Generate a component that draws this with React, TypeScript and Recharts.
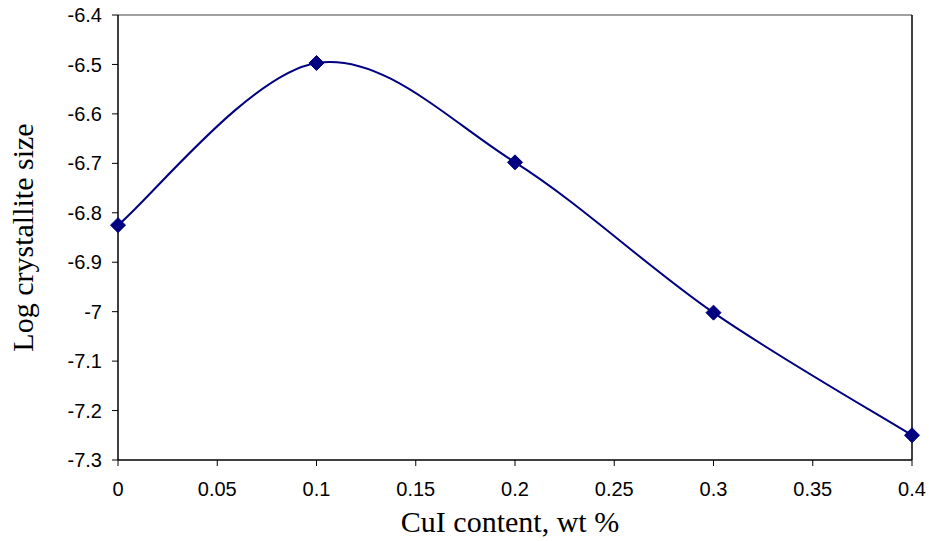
import React from "react";
import { LineChart, Line, XAxis, YAxis, ReferenceLine, Label } from "recharts";

// CuI content (wt %) and the measured log crystallite size
const cuiContent = [0, 0.1, 0.2, 0.3, 0.4];
const logCrystalliteSize = [-6.825, -6.497, -6.698, -7.002, -7.25];

const xTicks = [0, 0.05, 0.1, 0.15, 0.2, 0.25, 0.3, 0.35, 0.4];
const yTicks = [-7.3, -7.2, -7.1, -7.0, -6.9, -6.8, -6.7, -6.6, -6.5, -6.4];

const data = cuiContent.map((x, i) => ({ x, y: logCrystalliteSize[i] }));

const NAVY = "#000080";
const TICK_FONT = { fontFamily: "'Liberation Sans', Arial, sans-serif", fontSize: 20, fill: "#000" };
const TITLE_FONT = "'Liberation Serif', 'Times New Roman', serif";

// Smooth Bezier curve through every point (cardinal spline, spreadsheet-style smoothing)
const smoothCurve = (context: any) => {
  let pts: [number, number][] = [];
  return {
    areaStart() {},
    areaEnd() {},
    lineStart() {
      pts = [];
    },
    point(x: number, y: number) {
      pts.push([+x, +y]);
    },
    lineEnd() {
      const n = pts.length;
      if (!n) return;
      context.moveTo(pts[0][0], pts[0][1]);
      for (let i = 0; i < n - 1; i++) {
        const p0 = pts[Math.max(i - 1, 0)];
        const p1 = pts[i];
        const p2 = pts[i + 1];
        const p3 = pts[Math.min(i + 2, n - 1)];
        const c1x = p1[0] + (p2[0] - p0[0]) / 6;
        const c1y = p1[1] + (p2[1] - p0[1]) / 6;
        const c2x = p2[0] - (p3[0] - p1[0]) / 6;
        const c2y = p2[1] - (p3[1] - p1[1]) / 6;
        context.bezierCurveTo(c1x, c1y, c2x, c2y, p2[0], p2[1]);
      }
    },
  };
};

const Diamond = (props: any) => {
  const { cx, cy, index } = props;
  if (cx == null || cy == null) return null;
  const r = 7.5;
  return (
    <polygon
      key={`d-${index}`}
      points={`${cx},${cy - r} ${cx + r},${cy} ${cx},${cy + r} ${cx - r},${cy}`}
      fill={NAVY}
      stroke={NAVY}
    />
  );
};

const fmt = (v: number) => String(parseFloat(v.toFixed(2)));

export default function App() {
  return (
    <div style={{ position: "absolute", left: 0, top: 0, background: "#fff" }}>
      <LineChart
        width={929}
        height={541}
        data={data}
        margin={{ top: 15, right: 17, bottom: 0, left: 0 }}
      >
        <XAxis
          dataKey="x"
          type="number"
          domain={[0, 0.4]}
          ticks={xTicks}
          tickFormatter={fmt}
          interval={0}
          height={81}
          stroke="#000"
          tickLine={{ stroke: "#000" }}
          axisLine={{ stroke: "#000", strokeWidth: 1.5 }}
          tickSize={6}
          tickMargin={16}
          tick={TICK_FONT}
        >
          <Label
            content={() => (
              <text
                x={510}
                y={532}
                textAnchor="middle"
                fontFamily={TITLE_FONT}
                fontSize={30}
                fill="#000"
              >
                CuI content, wt %
              </text>
            )}
          />
        </XAxis>
        <YAxis
          type="number"
          domain={[-7.3, -6.4]}
          ticks={yTicks}
          tickFormatter={fmt}
          interval={0}
          width={118}
          stroke="#000"
          tickLine={{ stroke: "#000" }}
          axisLine={{ stroke: "#000", strokeWidth: 1.5 }}
          tickSize={6}
          tickMargin={10}
          tick={TICK_FONT}
        >
          <Label
            content={() => (
              <text
                x={33}
                y={237.5}
                transform="rotate(-90, 33, 237.5)"
                textAnchor="middle"
                fontFamily={TITLE_FONT}
                fontSize={30}
                fill="#000"
              >
                Log crystallite size
              </text>
            )}
          />
        </YAxis>
        <ReferenceLine y={-6.4} stroke="#808080" strokeWidth={1.5} />
        <ReferenceLine x={0.4} stroke="#000" strokeWidth={1.5} />
        <Line
          dataKey="y"
          type={smoothCurve as any}
          stroke={NAVY}
          strokeWidth={2}
          dot={<Diamond />}
          activeDot={false}
          isAnimationActive={false}
        />
      </LineChart>
    </div>
  );
}
